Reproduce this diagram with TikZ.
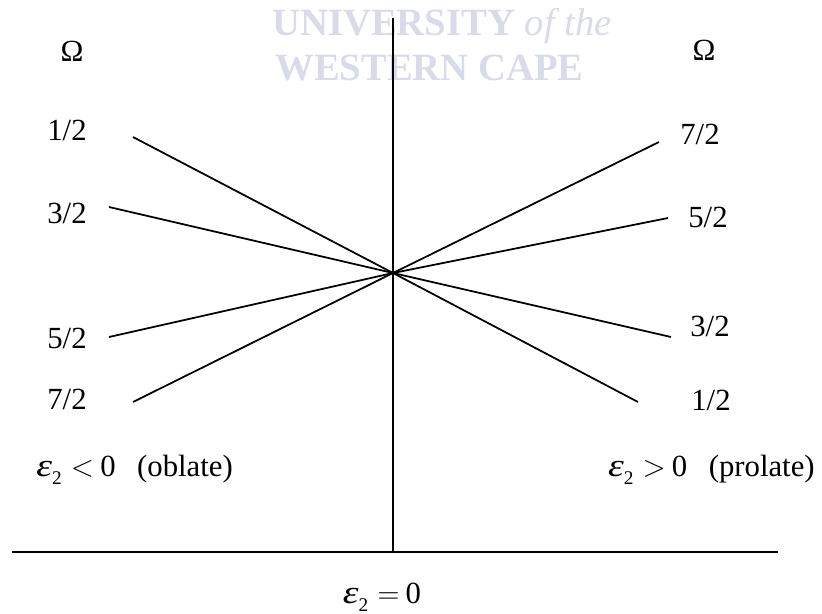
\documentclass[tikz,border=0pt]{standalone}
\usepackage{graphicx}
\usepackage{fontspec}
\setmainfont{Liberation Serif}
\usetikzlibrary{positioning}
\definecolor{uwcgrey}{RGB}{216,219,233}
\newcommand{\epstwo}{\scalebox{1.3}[1.05]{\itshape ε}\raisebox{-0.6ex}{\fontsize{11}{11}\selectfont 2}}
\tikzset{
  levellabel/.style={
    inner sep=0pt,
    font=\fontsize{17.5}{20}\selectfont
  },
  fanline/.style={line width=1pt, black},
  axisline/.style={line width=1.1pt, black},
  wmark/.style={
    inner sep=0pt, anchor=base west,
    text=uwcgrey,
    font=\fontsize{22}{26}\selectfont\bfseries
  }
}

\begin{document}
\begin{tikzpicture}[x=0.02cm, y=-0.02cm]
  \useasboundingbox (0,0) rectangle (822,613);

  % Watermark
  \node[wmark] (uwc1) at (272,35) {UNIVERSITY {\mdseries\itshape of the}};
  \node[wmark] (uwc2) at (275,80) {WESTERN CAPE};

  % Axes
  \coordinate (vtop) at (393,18);
  \coordinate (vbot) at (393,552);
  \coordinate (hleft) at (12,552);
  \coordinate (hright) at (778,552);
  \draw[axisline] (vtop) -- (vbot);
  \draw[axisline] (hleft) -- (hright);

  % Crossing point and line ends
  \coordinate (ctr) at (393,273);
  \coordinate (a12L) at (133,137);
  \coordinate (a32L) at (109,207);
  \coordinate (a52L) at (109,337);
  \coordinate (a72L) at (133,402);
  \coordinate (a72R) at (659,142);
  \coordinate (a52R) at (668,218);
  \coordinate (a32R) at (671,337);
  \coordinate (a12R) at (638,402);

  \draw[fanline] (a12L) -- (ctr) -- (a12R);
  \draw[fanline] (a32L) -- (ctr) -- (a32R);
  \draw[fanline] (a52L) -- (ctr) -- (a52R);
  \draw[fanline] (a72L) -- (ctr) -- (a72R);

  % Omega levels, oblate side
  \node[levellabel] (omL) at (72,51) {Ω};
  \node[levellabel] (l12) at (67,130) {1/2};
  \node[levellabel] (l32) at (67,213) {3/2};
  \node[levellabel] (l52) at (67,338) {5/2};
  \node[levellabel] (l72) at (67,399) {7/2};

  % Omega levels, prolate side
  \node[levellabel] (omR) at (704,50) {Ω};
  \node[levellabel] (r72) at (700,134) {7/2};
  \node[levellabel] (r52) at (708,217) {5/2};
  \node[levellabel] (r32) at (710,326) {3/2};
  \node[levellabel] (r12) at (711,400) {1/2};

  % Deformation labels
  \node[levellabel, anchor=west] (oblate) at (36,470)
    {\epstwo\hspace{0.3em}$<$\hspace{0.2em}0\hspace{0.7em}(oblate)};
  \node[levellabel, anchor=east] (prolate) at (815,470)
    {\epstwo\hspace{0.3em}$>$\hspace{0.2em}0\hspace{0.7em}(prolate)};
  \node[levellabel] (spher) at (382,597)
    {\epstwo\hspace{0.3em}$=$\hspace{0.2em}0};

\end{tikzpicture}
\end{document}
